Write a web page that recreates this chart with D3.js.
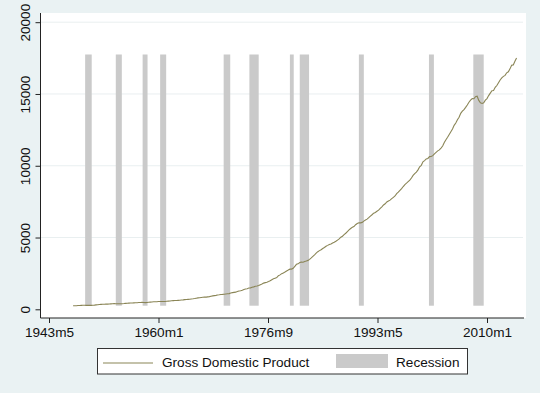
<!DOCTYPE html>
<html>
<head>
<meta charset="utf-8">
<script src="https://cdn.jsdelivr.net/npm/d3@7"></script>
<style>
html,body{margin:0;padding:0;background:#eaf2f3;}
svg{display:block;font-family:"Liberation Sans",Arial,Helvetica,sans-serif;}
</style>
</head>
<body>
<svg id="chart" width="540" height="393"></svg>
<script>
// Quarterly nominal GDP (billions of dollars), starting 1947q1
const gdpStart = "1947q1";
const gdp = [
243.2,246.0,249.6,259.7, 265.7,272.6,279.2,280.4, 275.0,271.4,272.9,270.6,
280.8,290.4,308.5,320.3, 336.4,344.5,351.8,356.4, 360.2,361.4,368.1,381.2,
388.5,392.3,391.7,386.5, 385.9,386.7,391.6,400.3, 413.8,422.2,430.9,437.8,
440.5,446.8,452.0,461.3, 470.6,472.8,480.3,475.7, 468.4,472.8,486.7,500.4,
511.1,524.2,525.2,529.3, 543.3,542.6,546.1,541.1, 545.9,557.4,568.2,581.6,
595.2,602.6,609.6,613.1, 622.7,631.8,645.0,654.8, 671.1,680.8,692.8,698.4,
719.2,732.4,750.2,773.1, 797.3,807.2,820.8,834.9, 846.0,851.1,866.6,883.2,
911.1,936.3,952.3,970.1, 995.4,1011.4,1032.0,1040.7, 1053.5,1070.1,1088.5,1091.5,
1137.8,1159.4,1180.3,1193.6, 1233.8,1270.1,1293.8,1332.0, 1380.7,1417.6,1436.8,1479.1,
1494.7,1534.2,1563.4,1603.0, 1619.6,1656.4,1713.8,1765.9, 1824.5,1856.9,1890.5,1938.4,
1992.5,2060.2,2122.4,2168.7, 2208.7,2336.6,2398.9,2482.2, 2531.6,2595.9,2670.4,2730.7,
2796.5,2799.9,2860.0,2993.5, 3131.8,3167.3,3261.2,3283.5, 3273.8,3331.3,3367.1,3407.8,
3480.3,3583.8,3692.3,3796.1, 3912.8,4015.0,4087.4,4147.6, 4237.0,4302.3,4394.6,4453.1,
4516.3,4555.2,4619.6,4669.4, 4736.2,4821.5,4900.5,5022.7, 5090.6,5207.7,5299.5,5412.7,
5527.4,5628.4,5711.6,5763.4, 5890.8,5974.7,6029.5,6023.3, 6054.9,6143.6,6218.4,6279.3,
6380.8,6492.3,6586.5,6697.6, 6748.2,6829.6,6904.2,7032.8, 7136.3,7269.8,7352.3,7476.7,
7545.3,7604.9,7706.5,7799.5, 7893.1,8061.5,8159.0,8287.1, 8402.1,8551.9,8691.8,8788.3,
8889.7,8994.7,9146.5,9325.7, 9447.1,9557.0,9712.3,9926.1, 10031.0,10278.3,10357.4,10472.3,
10508.1,10638.4,10639.5,10701.3, 10834.4,10934.8,11037.1,11103.8, 11230.1,11370.7,11625.1,11816.8,
11988.4,12181.4,12367.7,12562.2, 12813.7,12974.1,13205.4,13381.6, 13648.9,13799.8,13908.5,14066.4,
14233.2,14422.3,14569.7,14685.3, 14668.4,14813.0,14843.0,14549.9, 14383.9,14340.4,14384.1,14566.5,
14681.1,14888.6,15057.7,15230.2, 15238.4,15460.9,15587.1,15785.3, 15973.9,16121.9,16227.9,16297.3,
16475.4,16541.4,16749.3,16999.9, 17025.2,17285.6,17510.0
];

// NBER recessions (peak month, trough month)
const recessionStart = ["1948m11","1953m7","1957m8","1960m4","1969m12","1973m11","1980m1","1981m7","1990m7","2001m3","2007m12"];
const recessionEnd   = ["1949m10","1954m5","1958m4","1961m2","1970m11","1975m3","1980m7","1982m11","1991m3","2001m11","2009m6"];
const recessionBase = 250;
const recessionTop = 17750;

const xTickLabels = ["1943m5","1960m1","1976m9","1993m5","2010m1"];
const yTicks = [0,5000,10000,15000,20000];
const legendLabels = ["Gross Domestic Product","Recession"];

// Stata %tm: months since 1960m1
function tm(s){ const [y,m] = s.split("m").map(Number); return (y-1960)*12 + (m-1); }
function tq(s){ const [y,q] = s.split("q").map(Number); return (y-1960)*12 + (q-1)*3; }

const start = tq(gdpStart);
const series = gdp.map((v,i)=>({t:start + i*3, v}));
const recessions = recessionStart.map((s,i)=>({s:tm(s), e:tm(recessionEnd[i])+1}));

const svg = d3.select("#chart");
const x = d3.scaleLinear().domain([tm("1943m5"), tm("2010m1")]).range([49, 487]);
const y = d3.scaleLinear().domain([0, 20000]).range([309.3, 22.2]);

const plotL = 40.5, plotR = 526, plotT = 13, plotB = 318;
const fs = 13.6;

svg.append("rect").attr("width",540).attr("height",393).attr("fill","#eaf2f3");
svg.append("rect").attr("x",plotL).attr("y",plotT).attr("width",plotR-plotL).attr("height",plotB-plotT).attr("fill","#ffffff");

// grid
svg.append("g").selectAll("line").data(yTicks.filter(d=>d>0)).join("line")
  .attr("x1",plotL).attr("x2",plotR-3).attr("y1",d=>y(d)).attr("y2",d=>y(d))
  .attr("stroke","#e9eff0").attr("stroke-width",1);

// recession bars
svg.append("g").selectAll("rect").data(recessions).join("rect")
  .attr("x",d=>x(d.s)).attr("width",d=>x(d.e)-x(d.s))
  .attr("y",y(recessionTop)).attr("height",y(recessionBase)-y(recessionTop))
  .attr("fill","#cacaca");

// GDP line
svg.append("path").datum(series)
  .attr("d", d3.line().x(d=>x(d.t)).y(d=>y(d.v)))
  .attr("fill","none").attr("stroke","#8a8556").attr("stroke-width",1.1);

// axes
const yAxis = d3.axisLeft(y).tickValues(yTicks).tickSize(5).tickPadding(6).tickFormat(d3.format("d"));
const gy = svg.append("g").attr("transform",`translate(${plotL},0)`).call(yAxis);
gy.select(".domain").attr("d",`M0,${plotT}V${plotB}`).attr("stroke","#222");
gy.selectAll(".tick line").attr("stroke","#222");
gy.selectAll(".tick text")
  .attr("font-size",fs).attr("fill","#111")
  .attr("text-anchor","middle").attr("dy",null)
  .attr("x",null).attr("y",null)
  .attr("transform",function(){ return `translate(-11,0) rotate(-90)`; });

const xTicks = xTickLabels.map(tm);
const xAxis = d3.axisBottom(x).tickValues(xTicks).tickSize(5).tickPadding(6).tickFormat((d,i)=>xTickLabels[i]);
const gx = svg.append("g").attr("transform",`translate(0,${plotB})`).call(xAxis);
gx.select(".domain").attr("d",`M${plotL},0H${plotR-2}`).attr("stroke","#222");
gx.selectAll(".tick line").attr("stroke","#222");
gx.selectAll(".tick text").attr("font-size",fs).attr("fill","#111").attr("dy",null).attr("y",19);

// legend
const lg = svg.append("g");
lg.append("rect").attr("x",97.5).attr("y",348.5).attr("width",370).attr("height",25.5)
  .attr("fill","#ffffff").attr("stroke","#333").attr("stroke-width",1);
lg.append("line").attr("x1",103).attr("x2",153).attr("y1",363).attr("y2",363)
  .attr("stroke","#8a8556").attr("stroke-width",1.1);
lg.append("text").attr("x",162).attr("y",367).attr("font-size",fs).attr("fill","#111").text(legendLabels[0]);
lg.append("rect").attr("x",336).attr("y",354).attr("width",52).attr("height",14).attr("fill","#cacaca");
lg.append("text").attr("x",396).attr("y",367).attr("font-size",fs).attr("fill","#111").text(legendLabels[1]);
</script>
</body>
</html>
